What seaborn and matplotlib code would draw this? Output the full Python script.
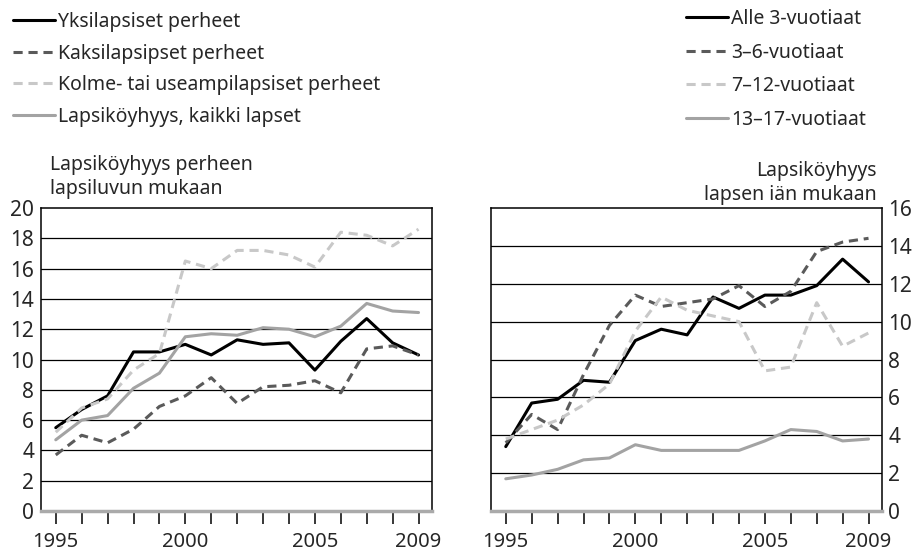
import matplotlib
matplotlib.use("Agg")
import matplotlib.pyplot as plt
from matplotlib.lines import Line2D
import numpy as np
import pandas as pd
import seaborn as sns

years = list(range(1995, 2010))

# Left panel: child poverty by number of children in family
yksi = [5.5, 6.7, 7.6, 10.5, 10.5, 11.0, 10.3, 11.3, 11.0, 11.1, 9.3, 11.2, 12.7, 11.1, 10.3]
kaksi = [3.7, 5.0, 4.5, 5.4, 6.9, 7.6, 8.8, 7.1, 8.2, 8.3, 8.6, 7.8, 10.7, 10.9, 10.3]
kolme = [5.2, 6.8, 7.4, 9.3, 10.4, 16.5, 16.0, 17.2, 17.2, 16.9, 16.1, 18.4, 18.2, 17.5, 18.6]
kaikki = [4.7, 6.0, 6.3, 8.1, 9.1, 11.5, 11.7, 11.6, 12.1, 12.0, 11.5, 12.2, 13.7, 13.2, 13.1]
left_labels = ["Yksilapsiset perheet", "Kaksilapsipset perheet",
               "Kolme- tai useampilapsiset perheet", "Lapsiköyhyys, kaikki lapset"]

# Right panel: child poverty by child's age
alle3 = [3.4, 5.7, 5.9, 6.9, 6.8, 9.0, 9.6, 9.3, 11.3, 10.7, 11.4, 11.4, 11.9, 13.3, 12.1]
v3_6 = [3.6, 5.1, 4.3, 7.2, 9.8, 11.4, 10.8, 11.0, 11.2, 11.9, 10.8, 11.6, 13.7, 14.2, 14.4]
v7_12 = [3.8, 4.3, 4.8, 5.6, 6.7, 9.5, 11.3, 10.6, 10.3, 10.0, 7.4, 7.6, 11.0, 8.7, 9.4]
v13_17 = [1.7, 1.9, 2.2, 2.7, 2.8, 3.5, 3.2, 3.2, 3.2, 3.2, 3.7, 4.3, 4.2, 3.7, 3.8]
right_labels = ["Alle 3-vuotiaat", "3\u20136-vuotiaat", "7\u201312-vuotiaat", "13\u201317-vuotiaat"]

left_ticks = list(range(0, 21, 2))
right_ticks = list(range(0, 17, 2))
year_labels = [1995, 2000, 2005, 2009]

title_left = "Lapsiköyhyys perheen\nlapsiluvun mukaan"
title_right = "Lapsiköyhyys\nlapsen iän mukaan"

colors = ["#000000", "#5a5a5a", "#c8c8c8", "#a3a3a3"]
dashlist = ["", (3, 1.9), (3, 1.9), ""]

sns.set_style("white")
plt.rcParams["font.family"] = ["Noto Sans", "DejaVu Sans"]
FS = 14
FS_Y = 15
FS_X = 14.5

fig = plt.figure(figsize=(9.15, 5.55), dpi=100)
axL = fig.add_axes([41/915, 1-511/555, (432-41)/915, (511-208)/555])
axR = fig.add_axes([491/915, 1-511/555, (882-491)/915, (511-208)/555])


def draw(ax, series, labels, ticks, ymax, side):
    rows = []
    for lab, vals in zip(labels, series):
        for y, v in zip(years, vals):
            rows.append({"year": y, "value": v, "series": lab})
    df = pd.DataFrame(rows)
    pal = dict(zip(labels, colors))
    dsh = dict(zip(labels, dashlist))
    sns.lineplot(data=df, x="year", y="value", hue="series", style="series",
                 palette=pal, dashes=dsh, hue_order=labels, style_order=labels,
                 linewidth=2.2, legend=False, ax=ax, zorder=3)
    ax.set_xlim(1994.43, 2009.52)
    ax.set_ylim(0, ymax)
    ax.set_xlabel("")
    ax.set_ylabel("")
    for t in ticks[1:-1]:
        ax.axhline(t, color="black", lw=0.9, zorder=1)
    for s in ["left", "right", "top"]:
        ax.spines[s].set_visible(True)
        ax.spines[s].set_color("black")
        ax.spines[s].set_linewidth(1.1)
    ax.spines["bottom"].set_color("#aaaaaa")
    ax.spines["bottom"].set_linewidth(2.5)
    ax.spines["bottom"].set_zorder(4)
    ax.set_xticks(years)
    ax.set_xticklabels([str(y) if y in year_labels else "" for y in years])
    ax.tick_params(axis="x", direction="out", length=9.5, width=1.1, color="black",
                   labelsize=FS_X, pad=5.5, bottom=True)
    ax.set_yticks(ticks)
    ax.set_yticklabels([str(t) for t in ticks])
    if side == "left":
        ax.tick_params(axis="y", length=0, labelsize=FS_Y, pad=5, left=True, right=False,
                       labelleft=True, labelright=False)
    else:
        ax.tick_params(axis="y", length=0, labelsize=FS_Y, pad=4.5, left=False, right=True,
                       labelleft=False, labelright=True)
    ax.grid(False)


draw(axL, [yksi, kaksi, kolme, kaikki], left_labels, left_ticks, 20, "left")
draw(axR, [alle3, v3_6, v7_12, v13_17], right_labels, right_ticks, 16, "right")

fig.text(50/915, 1-177/555, title_left, fontsize=FS, ha="left", va="center",
         linespacing=1.3)
fig.text(877/915, 1-183/555, title_right, fontsize=FS, ha="right", va="center",
         linespacing=1.3)


def handles():
    return [Line2D([], [], color=c, lw=2.2,
                   linestyle="-" if d == "" else (0, d)) for c, d in zip(colors, dashlist)]


common = dict(loc="upper left", frameon=False, fontsize=FS, handlelength=2.16,
              handletextpad=0.15, borderpad=0.2, borderaxespad=0)
legL = fig.legend(handles(), left_labels, bbox_to_anchor=(9/915, 1-8/555),
                  labelspacing=0.6, **common)
legR = fig.legend(handles(), right_labels, bbox_to_anchor=(682/915, 1-5/555),
                  labelspacing=0.7, **common)

fig.savefig("out.png", dpi=100)
